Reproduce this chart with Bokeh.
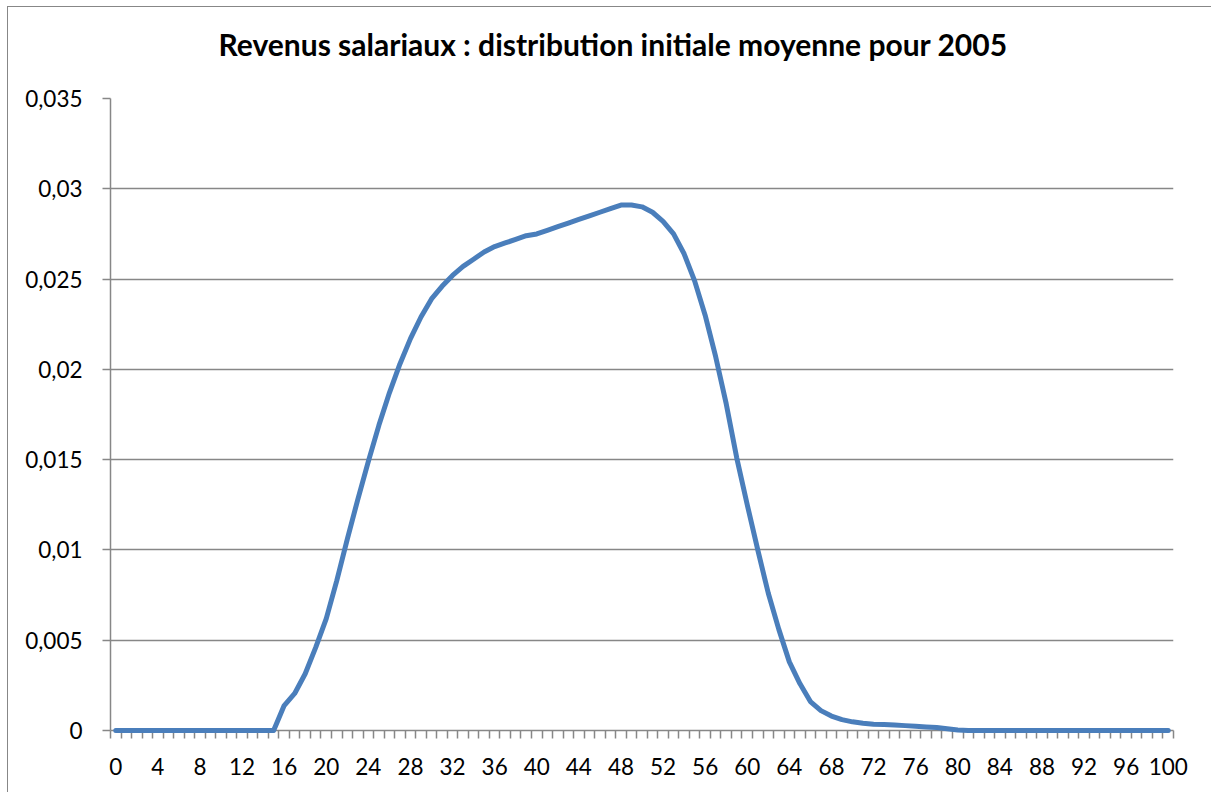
from bokeh.plotting import figure
from bokeh.models import Range1d, FixedTicker, CustomJSTickFormatter, Title
from bokeh.embed import file_html
from bokeh.resources import INLINE

# ---- data ----
categories = list(range(0, 101))
values = (
    [0.0] * 16 +
    [0.00138, 0.00205, 0.00314, 0.0046, 0.0062, 0.0083, 0.0106, 0.0128, 0.0149, 0.0169,   # 16-25
     0.0187, 0.0203, 0.0217, 0.0229, 0.0239, 0.0246, 0.0252, 0.0257, 0.0261, 0.0265,     # 26-35
     0.0268, 0.0270, 0.0272, 0.0274, 0.0275, 0.0277, 0.0279, 0.0281, 0.0283, 0.0285,     # 36-45
     0.0287, 0.0289, 0.0291, 0.0291, 0.0290, 0.0287, 0.0282, 0.0275, 0.0264, 0.0249,     # 46-55
     0.0230, 0.0207, 0.0181, 0.0151, 0.0125, 0.0100, 0.0076, 0.0056, 0.0038, 0.0026,     # 56-65
     0.0016, 0.0011, 0.0008, 0.0006, 0.00048, 0.0004, 0.00035, 0.00033, 0.0003, 0.00027, # 66-75
     0.00023, 0.0002, 0.00016, 0.0001, 0.00003] +                                         # 76-80
    [0.0] * 20
)
x_label_ticks = list(range(0, 101, 4))
y_ticks = [0, 0.005, 0.01, 0.015, 0.02, 0.025, 0.03, 0.035]
title_text = "Revenus salariaux : distribution initiale moyenne pour 2005"

GRAY = "#878787"
FONT = "Lato"

p = figure(width=1204, height=786, output_backend="svg", toolbar_location=None,
           x_range=Range1d(categories[0] - 0.5, categories[-1] + 0.5),
           y_range=Range1d(y_ticks[0], y_ticks[-1]),
           min_border_left=102, min_border_right=39, min_border_top=91, min_border_bottom=63)
p.styles = {"border-top": "1px solid #878787", "border-left": "1px solid #878787",
            "margin-top": "6px", "margin-left": "7px"}
p.outline_line_color = None

# chart title
p.title.text = title_text
p.title.text_font = FONT
p.title.text_font_size = "30px"
p.title.text_font_style = "bold"
p.title.text_color = "black"
p.title.align = "left"
p.title.offset = 108
p.title.standoff = 10

# empty spacer between the frame and the title
p.add_layout(Title(text=" ", text_font_size="1px", standoff=29), "above")

# x axis: category-like, ticks at boundaries
xa = p.xaxis[0]
xa.ticker = FixedTicker(ticks=x_label_ticks, minor_ticks=[c - 0.5 for c in categories] + [categories[-1] + 0.5])
xa.axis_line_color = GRAY
xa.axis_line_width = 1.5
xa.major_tick_in = 0
xa.major_tick_out = 0
xa.minor_tick_in = 0
xa.minor_tick_out = 8
xa.minor_tick_line_color = GRAY
xa.minor_tick_line_width = 1.5
xa.major_label_text_font = FONT
xa.major_label_text_font_size = "22.5px"
xa.major_label_text_color = "black"
xa.major_label_standoff = 19

ya = p.yaxis[0]
ya.ticker = FixedTicker(ticks=y_ticks, minor_ticks=[])
ya.formatter = CustomJSTickFormatter(code="""
let s = tick.toFixed(3).replace(/0+$/, '').replace(/\\.$/, '');
return s.replace('.', ',');
""")
ya.axis_line_color = GRAY
ya.axis_line_width = 1.5
ya.major_tick_in = 0
ya.major_tick_out = 8
ya.major_tick_line_color = GRAY
ya.major_tick_line_width = 1.5
ya.minor_tick_line_color = None
ya.major_label_text_font = FONT
ya.major_label_text_font_size = "22.5px"
ya.major_label_text_color = "black"
ya.major_label_standoff = 20

p.xgrid.visible = False
p.ygrid.ticker = FixedTicker(ticks=y_ticks, minor_ticks=[])
p.ygrid.grid_line_color = GRAY
p.ygrid.grid_line_width = 1.5

p.line(categories, values, line_color="#4A7EBB", line_width=5,
       line_join="round", line_cap="round", level="overlay")

open("out.html", "w").write(file_html(p, INLINE))
